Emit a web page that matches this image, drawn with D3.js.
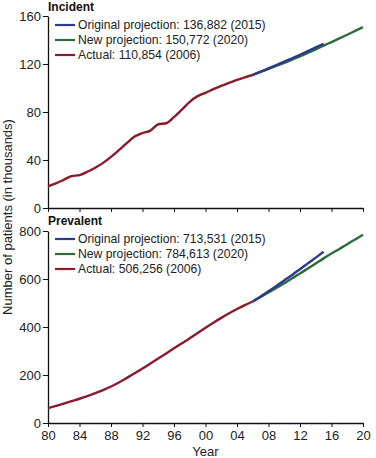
<!DOCTYPE html>
<html><head><meta charset="utf-8">
<script src="https://cdn.jsdelivr.net/npm/d3@7/dist/d3.min.js"></script>
<style>
html,body{margin:0;padding:0;background:#fff;}
svg{display:block;font-family:"Liberation Sans",Arial,sans-serif;}
</style></head>
<body><svg id="chart" width="376" height="458"></svg>
<script>
// ---- data (thousands of patients) ----
const actualYears = d3.range(1980, 2007);
const incidentActual = [18, 20.5, 23.5, 26.6, 27.4, 30.2, 33.6, 37.6, 42.6, 48.2, 54, 59.5, 62.5, 64.5, 69.8, 70.6, 75.8, 82, 88.5, 93.2, 96, 99, 101.8, 104.3, 106.7, 108.9, 110.854];
const origYears = d3.range(2006, 2016);
const incidentOriginal = [110.854, 113.6, 116.3, 119.1, 121.9, 124.8, 127.7, 130.7, 133.8, 136.882];
const newYears = d3.range(2006, 2021);
const incidentNew = [110.854, 113.4, 115.9, 118.4, 121.0, 123.6, 126.3, 129.2, 132.2, 135.3, 138.3, 141.3, 144.4, 147.6, 150.772];

const prevalentActual = [62, 71, 81, 91, 101, 112, 124, 137, 152, 169, 188, 207, 227, 248, 269, 290, 311, 332, 353, 375, 397, 418, 438, 457, 475, 491, 506.256];
const prevalentOriginal = [506.256, 527, 549, 571, 594, 617, 641, 665, 689, 713.531];
const prevalentNew = [506.256, 525, 544, 563, 582, 603, 623, 644, 665, 686, 706, 725, 745, 765, 784.613];

const xTicks = d3.range(1980, 2021, 4);
const incidentTicks = [0, 40, 80, 120, 160];
const prevalentTicks = [0, 200, 400, 600, 800];

const incidentLegend = ["Original projection: 136,882 (2015)", "New projection: 150,772 (2020)", "Actual: 110,854 (2006)"];
const prevalentLegend = ["Original projection: 713,531 (2015)", "New projection: 784,613 (2020)", "Actual: 506,256 (2006)"];
const colors = ["#2a3a8f", "#2e6b3d", "#8b1a2e"];

// ---- drawing ----
const svg = d3.select("#chart");
const x = d3.scaleLinear().domain([1980, 2020]).range([48, 363]);
const fmtYear = d => String(d % 100).padStart(2, "0");

function panel(opts) {
  const y = d3.scaleLinear().domain([0, opts.max]).range([opts.bottom, opts.top]);
  const g = svg.append("g");
  const ya = g.append("g").attr("transform", `translate(${x.range()[0]},0)`)
    .call(d3.axisLeft(y).tickValues(opts.ticks).tickSize(5).tickPadding(2).tickSizeOuter(0));
  const xa = g.append("g").attr("transform", `translate(0,${opts.bottom})`)
    .call(d3.axisBottom(x).tickValues(xTicks).tickSize(4).tickPadding(4).tickSizeOuter(0)
      .tickFormat(opts.showX ? fmtYear : ""));
  [ya, xa].forEach(a => {
    a.select(".domain").attr("stroke", "#111").attr("stroke-width", 1.3);
    a.selectAll(".tick line").attr("stroke", "#111").attr("stroke-width", 1);
    a.selectAll(".tick text").attr("font-size", 13).attr("fill", "#222")
      .attr("font-family", "'Liberation Sans',Arial,sans-serif");
  });
  const line = d3.line().x(d => x(d[0])).y(d => y(d[1])).curve(d3.curveMonotoneX);
  const series = [
    [newYears, opts.newer, colors[1]],
    [origYears, opts.orig, colors[0]],
    [actualYears, opts.actual, colors[2]]
  ];
  series.forEach(([yrs, vals, c]) => {
    g.append("path").datum(yrs.map((yr, i) => [yr, vals[i]]))
      .attr("d", line).attr("fill", "none").attr("stroke", c).attr("stroke-width", 2.4);
  });
  g.append("text").attr("x", 48).attr("y", opts.titleY).attr("font-size", 12)
    .attr("font-weight", "bold").attr("fill", "#111").text(opts.title);
  opts.legend.forEach((t, i) => {
    const ly = opts.legendY + i * 15;
    g.append("line").attr("x1", 55).attr("x2", 75).attr("y1", ly).attr("y2", ly)
      .attr("stroke", colors[i]).attr("stroke-width", 2.2);
    g.append("text").attr("x", 78).attr("y", ly + 4.3).attr("font-size", 12.2)
      .attr("fill", "#222").text(t);
  });
}

panel({top: 16, bottom: 208, max: 160, ticks: incidentTicks, showX: false,
  actual: incidentActual, orig: incidentOriginal, newer: incidentNew,
  title: "Incident", titleY: 11, legend: incidentLegend, legendY: 25});
panel({top: 231, bottom: 423, max: 800, ticks: prevalentTicks, showX: true,
  actual: prevalentActual, orig: prevalentOriginal, newer: prevalentNew,
  title: "Prevalent", titleY: 225, legend: prevalentLegend, legendY: 239});

svg.append("text").attr("x", 205.5).attr("y", 456).attr("text-anchor", "middle")
  .attr("font-size", 13).attr("fill", "#222").text("Year");
svg.append("text").attr("transform", "translate(11.5,217) rotate(-90)")
  .attr("text-anchor", "middle").attr("font-size", 13).attr("fill", "#222")
  .text("Number of patients (in thousands)");
</script></body></html>
